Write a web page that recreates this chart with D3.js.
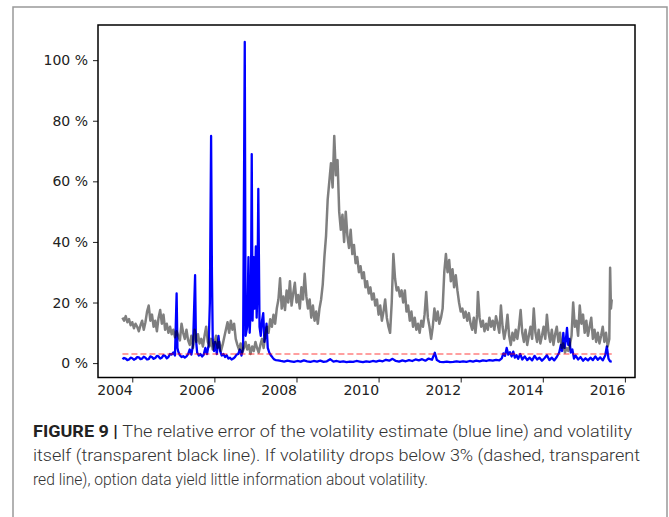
<!DOCTYPE html>
<html lang="en">
<head>
<meta charset="utf-8">
<title>figure 9</title>
<script src="https://cdn.jsdelivr.net/npm/d3@7"></script>
<style>
  body { margin: 0; background: #fff; }
  svg { display: block; }
</style>
</head>
<body>
<script>
// volatility itself, [decimal year, %]
var volatility = [
[2003.76,15],[2003.80,14],[2003.84,15.5],[2003.88,13.5],[2003.92,14.5],[2003.96,12.5],[2004.00,13.5],[2004.04,11.5],
[2004.08,13],[2004.12,12],[2004.16,10.5],[2004.20,12.5],[2004.24,14],[2004.28,11],[2004.32,13.5],[2004.36,17],
[2004.40,19],[2004.44,14],[2004.48,16],[2004.52,12],[2004.56,14],[2004.60,10.5],[2004.64,15],[2004.68,17.5],
[2004.72,13],[2004.76,16],[2004.80,11],[2004.84,13],[2004.88,10],[2004.92,12],[2004.96,9.5],[2005.00,11],
[2005.04,8.5],[2005.08,10.5],[2005.12,9],[2005.16,7.5],[2005.20,13],[2005.24,10],[2005.28,8],[2005.32,11],
[2005.36,7.5],[2005.40,6],[2005.44,9],[2005.48,5],[2005.52,11],[2005.56,7],[2005.60,9.5],[2005.64,6.5],
[2005.68,8],[2005.72,5.5],[2005.76,9],[2005.80,12],[2005.84,7],[2005.88,5.5],[2005.92,8],[2005.96,4.5],
[2006.00,6.5],[2006.04,9],[2006.08,5],[2006.12,7],[2006.16,4],[2006.20,6],[2006.24,8.5],[2006.28,11],
[2006.32,13.5],[2006.36,10],[2006.40,14],[2006.44,11],[2006.48,13],[2006.52,8],[2006.56,6],[2006.60,4.5],
[2006.64,6.5],[2006.68,3.5],[2006.72,5],[2006.76,7],[2006.80,4.5],[2006.84,6],[2006.88,3],[2006.92,5.5],
[2006.96,4],[2007.00,7],[2007.04,5],[2007.08,3.5],[2007.12,6],[2007.16,8],[2007.20,5],[2007.24,9.5],
[2007.28,12],[2007.32,10],[2007.36,14.5],[2007.40,12],[2007.44,16],[2007.48,13],[2007.52,18],[2007.56,21],
[2007.60,28],[2007.64,18],[2007.68,22],[2007.72,17.5],[2007.76,24],[2007.80,20],[2007.84,27],[2007.88,19],
[2007.92,23],[2007.96,26.5],[2008.00,20],[2008.04,22.5],[2008.08,18],[2008.12,25],[2008.16,21],[2008.20,29.5],
[2008.24,22],[2008.28,18],[2008.32,21],[2008.36,15],[2008.40,19],[2008.44,14],[2008.48,17],[2008.52,13],
[2008.56,18],[2008.60,21],[2008.64,26],[2008.68,35],[2008.72,42],[2008.76,54],[2008.80,60],[2008.84,66],
[2008.88,58],[2008.92,75],[2008.96,62],[2009.00,67],[2009.04,50],[2009.08,44],[2009.12,49],[2009.16,40],
[2009.20,50],[2009.24,42],[2009.28,38],[2009.32,44],[2009.36,36],[2009.40,39],[2009.44,33],[2009.48,35],
[2009.52,30],[2009.56,32],[2009.60,28],[2009.64,30],[2009.68,25],[2009.72,27],[2009.76,23],[2009.80,25],
[2009.84,21],[2009.88,23],[2009.92,19],[2009.96,21],[2010.00,16],[2010.04,19],[2010.08,14],[2010.12,17],
[2010.16,21],[2010.20,15],[2010.24,12],[2010.28,10],[2010.32,20],[2010.36,36],[2010.40,28],[2010.44,24],
[2010.48,25],[2010.52,22],[2010.56,24],[2010.60,20],[2010.64,24],[2010.68,17],[2010.72,19],[2010.76,14],
[2010.80,17],[2010.84,12],[2010.88,15],[2010.92,11],[2010.96,13],[2011.00,10],[2011.04,14],[2011.08,12],
[2011.12,16],[2011.16,23.5],[2011.20,15],[2011.24,12],[2011.28,8],[2011.32,12],[2011.36,18],[2011.40,14],
[2011.44,17],[2011.48,13],[2011.52,15],[2011.56,18],[2011.60,30],[2011.64,36],[2011.68,30],[2011.72,34],
[2011.76,27],[2011.80,31],[2011.84,25],[2011.88,29],[2011.92,24],[2011.96,20],[2012.00,17],[2012.04,18],
[2012.08,15],[2012.12,17],[2012.16,14],[2012.20,16.5],[2012.24,13],[2012.28,11],[2012.32,15],[2012.36,10],
[2012.40,16],[2012.42,23.5],[2012.46,15],[2012.50,12],[2012.54,14],[2012.58,10.5],[2012.62,13],[2012.66,11],
[2012.70,15],[2012.74,12],[2012.78,14],[2012.82,11],[2012.86,15.5],[2012.90,13],[2012.94,10],[2012.98,19],
[2013.02,12],[2013.06,8],[2013.10,11],[2013.14,16],[2013.18,9],[2013.22,6],[2013.26,10],[2013.30,7.5],
[2013.34,11],[2013.38,8],[2013.42,12],[2013.46,17.5],[2013.50,10],[2013.54,7],[2013.58,11],[2013.62,6],
[2013.66,9],[2013.70,12],[2013.74,8],[2013.78,18],[2013.82,10],[2013.86,7],[2013.90,11],[2013.94,6.5],
[2013.98,9],[2014.02,12],[2014.06,8],[2014.10,16],[2014.14,10],[2014.18,7],[2014.22,11],[2014.26,6],
[2014.30,9.5],[2014.34,12],[2014.38,7],[2014.42,10],[2014.46,5],[2014.50,6.5],[2014.54,3.5],[2014.58,5],
[2014.62,4],[2014.66,6],[2014.70,9],[2014.74,20],[2014.78,12],[2014.82,14],[2014.86,9],[2014.90,19],
[2014.94,13],[2014.98,16],[2015.02,10],[2015.06,14],[2015.10,9],[2015.14,12],[2015.18,15],[2015.22,8],
[2015.26,11],[2015.30,7],[2015.34,10],[2015.38,6.5],[2015.42,9],[2015.46,12],[2015.50,7],[2015.54,10],
[2015.58,5.5],[2015.62,8],[2015.64,31.5],[2015.66,18],[2015.68,21]
];

// relative error of the volatility estimate, [decimal year, %]
var relError = [
[2003.76,1.3],[2003.80,1.7],[2003.84,1.5],[2003.88,1.0],[2003.92,1.2],[2003.96,1.8],[2004.00,1.6],[2004.04,1.1],
[2004.08,1.4],[2004.12,2.0],[2004.16,1.9],[2004.20,1.3],[2004.24,1.5],[2004.28,2.1],[2004.32,1.8],[2004.36,1.2],
[2004.40,1.3],[2004.44,2.2],[2004.48,2.0],[2004.52,1.4],[2004.56,1.7],[2004.60,2.4],[2004.64,2.2],[2004.68,1.5],
[2004.72,1.8],[2004.76,2.6],[2004.80,2.4],[2004.84,1.6],[2004.88,2.0],[2004.92,3.0],[2004.96,2.8],[2005.00,3.5],
[2005.04,2.5],[2005.08,23],[2005.10,5],[2005.12,3.8],[2005.16,2.6],[2005.20,2.0],[2005.24,2.3],
[2005.28,1.8],[2005.32,2.2],[2005.36,3.0],[2005.40,4.5],[2005.44,2.8],[2005.48,6],[2005.53,29],[2005.55,8],
[2005.58,3.5],[2005.62,2.5],[2005.66,3.0],[2005.70,2.2],[2005.74,2.8],[2005.78,5],[2005.82,3],[2005.86,6],
[2005.89,20],[2005.92,75],[2005.94,30],[2005.96,8],[2005.99,4],[2006.02,7],[2006.06,3],[2006.10,9],
[2006.14,4],[2006.18,2.5],[2006.22,3],[2006.26,2],[2006.30,2.6],[2006.34,1.5],[2006.38,1.8],[2006.42,1.2],
[2006.46,1.5],[2006.50,2.0],[2006.54,2.8],[2006.58,3],[2006.62,4.5],[2006.66,2.5],[2006.70,5],[2006.74,106],
[2006.76,9],[2006.80,12],[2006.83,35],[2006.86,10],[2006.89,20],[2006.91,69],[2006.93,14],[2006.96,35],
[2006.98,18],[2007.01,38.5],[2007.03,15],[2007.05,25],[2007.07,57.5],[2007.10,12],[2007.13,9],[2007.16,14],
[2007.19,16.5],[2007.22,7],[2007.25,10],[2007.27,13],[2007.30,5],[2007.34,3.4],[2007.38,2.5],[2007.42,1.8],
[2007.46,1.2],[2007.50,1.0],[2007.55,0.9],[2007.62,0.7],[2007.70,0.5],[2007.78,0.8],[2007.86,0.6],[2007.94,0.4],
[2008.02,0.7],[2008.10,0.5],[2008.18,0.9],[2008.26,0.6],[2008.34,0.4],[2008.42,0.7],[2008.50,0.5],[2008.58,0.8],
[2008.66,0.4],[2008.74,0.6],[2008.82,1.3],[2008.90,0.5],[2008.98,0.7],[2009.06,0.4],[2009.14,0.6],[2009.22,0.3],
[2009.30,0.5],[2009.38,0.4],[2009.46,0.7],[2009.54,0.5],[2009.62,0.3],[2009.70,0.6],[2009.78,0.4],[2009.86,0.7],
[2009.94,0.5],[2010.02,0.8],[2010.10,0.6],[2010.18,1.1],[2010.26,0.8],[2010.34,1.4],[2010.42,0.7],[2010.50,0.5],
[2010.58,0.9],[2010.66,0.6],[2010.74,1.0],[2010.82,0.7],[2010.90,1.2],[2010.98,0.9],[2011.06,1.3],[2011.14,0.8],
[2011.22,1.5],[2011.30,1.1],[2011.37,3.4],[2011.42,1.0],[2011.50,0.4],[2011.58,0.3],[2011.66,0.5],[2011.74,0.3],
[2011.82,0.4],[2011.90,0.6],[2011.98,0.4],[2012.06,0.6],[2012.14,0.4],[2012.22,0.7],[2012.30,0.5],[2012.38,0.8],
[2012.46,0.6],[2012.54,0.9],[2012.62,0.7],[2012.70,1.0],[2012.78,0.8],[2012.86,1.1],[2012.94,0.9],[2013.00,1.6],
[2013.04,3.2],[2013.08,2.4],[2013.12,5],[2013.16,2.8],[2013.20,3.6],[2013.24,2.2],[2013.28,3.8],[2013.32,1.8],
[2013.36,2.6],[2013.40,1.4],[2013.45,3.0],[2013.50,1.2],[2013.56,2.2],[2013.62,1.0],[2013.68,1.8],[2013.74,0.9],
[2013.80,2.4],[2013.86,1.2],[2013.92,1.8],[2013.98,0.8],[2014.04,1.6],[2014.10,2.6],[2014.16,1.0],[2014.22,1.8],
[2014.28,0.9],[2014.34,2.0],[2014.40,3.5],[2014.44,6],[2014.47,4],[2014.50,10],[2014.53,5],[2014.56,7.5],
[2014.59,11.6],[2014.62,6],[2014.65,8],[2014.68,3.5],[2014.72,4.5],[2014.76,1.5],[2014.80,2.5],[2014.86,1.2],
[2014.92,2.0],[2014.98,0.8],[2015.04,1.6],[2015.10,0.9],[2015.16,1.8],[2015.22,1.0],[2015.28,2.2],[2015.34,1.1],
[2015.40,1.9],[2015.46,0.9],[2015.52,2.5],[2015.56,5.5],[2015.60,1.5],[2015.64,0.6],[2015.68,0.5]
];

var threshold = 3;   // % line
var yTicks = [0, 20, 40, 60, 80, 100];
var xTicks = [2004, 2006, 2008, 2010, 2012, 2014, 2016];

var captionLines = [
  ["FIGURE 9 | ", "The relative error of the volatility estimate (blue line) and volatility"],
  ["", "itself (transparent black line). If volatility drops below 3% (dashed, transparent"],
  ["", "red line), option data yield little information about volatility."]
];

var W = 669, H = 517;
var m = {left: 98, right: 635, top: 25, bottom: 377.5};

var svg = d3.select("body").append("svg")
  .attr("width", W).attr("height", H);

// outer frame of the figure
svg.append("rect")
  .attr("x", 13).attr("y", 7).attr("width", 654).attr("height", 530)
  .attr("fill", "none").attr("stroke", "#999").attr("stroke-width", 1.5);

var x = d3.scaleLinear().domain([2003.165, 2016.246]).range([m.left, m.right]);
var y = d3.scaleLinear().domain([-4.75, 111.6]).range([m.bottom, m.top]);

svg.append("clipPath").attr("id", "clip")
  .append("rect").attr("x", m.left).attr("y", m.top)
  .attr("width", m.right - m.left).attr("height", m.bottom - m.top);

var line = d3.line().x(function(d){ return x(d[0]); }).y(function(d){ return y(d[1]); });

var plot = svg.append("g").attr("clip-path", "url(#clip)");

plot.append("path").datum(relError)
  .attr("d", line).attr("fill", "none")
  .attr("stroke", "#0000ff").attr("stroke-width", 2.3).attr("stroke-linejoin", "round");

plot.append("path").datum(volatility)
  .attr("d", line).attr("fill", "none")
  .attr("stroke", "#000").attr("stroke-opacity", 0.5)
  .attr("stroke-width", 2.5).attr("stroke-linejoin", "round");

var first = volatility[0][0], last = volatility[volatility.length - 1][0];
plot.append("path").datum([[first, threshold], [last, threshold]])
  .attr("d", line).attr("fill", "none")
  .attr("stroke", "#ff0000").attr("stroke-opacity", 0.5)
  .attr("stroke-width", 1.5).attr("stroke-dasharray", "6,3");

// axes
var yAxis = d3.axisLeft(y).tickValues(yTicks).tickSize(5).tickPadding(5)
  .tickFormat(function(d){ return d + " %"; });
var xAxis = d3.axisBottom(x).tickValues(xTicks).tickSize(5).tickPadding(3)
  .tickFormat(d3.format("d"));

var gy = svg.append("g").attr("transform", "translate(" + m.left + ",0)").call(yAxis);
var gx = svg.append("g").attr("transform", "translate(0," + m.bottom + ")").call(xAxis);

[gx, gy].forEach(function(g){
  g.select(".domain").remove();
  g.selectAll("line").attr("stroke", "#222").attr("stroke-width", 1);
  g.selectAll("text").attr("font-family", "DejaVu Sans, sans-serif")
    .attr("font-size", 14).attr("fill", "#222");
});
// year labels sit to the left of their ticks
gx.selectAll("text").attr("text-anchor", "end").attr("dx", 0);

svg.append("rect")
  .attr("x", m.left).attr("y", m.top)
  .attr("width", m.right - m.left).attr("height", m.bottom - m.top)
  .attr("fill", "none").attr("stroke", "#000").attr("stroke-width", 1.5);

// caption
var capX = 33, capY = 437, capLead = 24;
var capW = [599, 607, 395];
captionLines.forEach(function(l, i){
  var t = svg.append("text")
    .attr("x", capX).attr("y", capY + i * capLead)
    .attr("font-family", "'Roboto', 'Liberation Sans', sans-serif")
    .attr("font-size", 17).attr("font-weight", 300).attr("fill", "#333")
    .attr("textLength", capW[i]).attr("lengthAdjust", "spacingAndGlyphs");
  if (l[0]) t.append("tspan").attr("font-weight", "bold").attr("fill", "#222").text(l[0]);
  t.append("tspan").text(l[1]);
});
</script>
</body>
</html>
